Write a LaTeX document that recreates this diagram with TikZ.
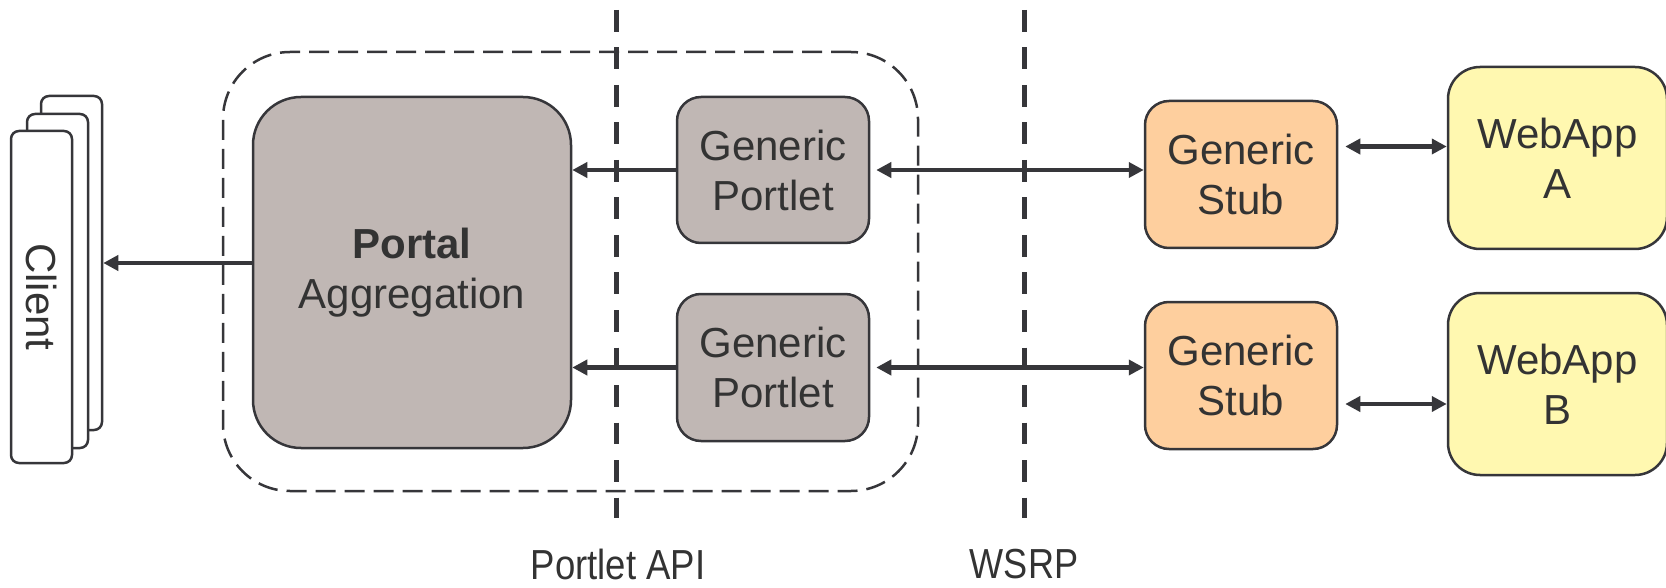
\documentclass[tikz,border=0pt]{standalone}
\usepackage{graphicx}
\usepackage{fontspec}
\setmainfont{Liberation Sans}
\usetikzlibrary{arrows.meta}
\definecolor{strk}{HTML}{36363A}
\definecolor{txt}{HTML}{333333}
\definecolor{portalfill}{HTML}{C0B7B4}
\definecolor{stubfill}{HTML}{FECF9E}
\definecolor{appfill}{HTML}{FFF8B0}
\begin{document}
\begin{tikzpicture}[x=1pt,y=-1pt,
  box/.style={draw=strk, line width=2.5pt, inner sep=0pt, align=center, text=txt,
    font=\fontsize{42}{50}\selectfont},
  portalbox/.style={box, fill=portalfill},
  stubbox/.style={box, fill=stubfill, rounded corners=24pt, minimum width=192pt, minimum height=147pt},
  appbox/.style={box, fill=appfill, rounded corners=32pt, minimum width=219pt, minimum height=182pt},
  clientbox/.style={draw=strk, line width=2.5pt, fill=white, rounded corners=8pt, inner sep=0pt,
    minimum width=61pt, minimum height=333pt},
  arr/.style={draw=strk, line width=4.5pt, -{Triangle[length=15pt,width=15pt]}},
  darr/.style={draw=strk, line width=4.5pt, {Triangle[length=15pt,width=15pt]}-{Triangle[length=15pt,width=15pt]}},
  sepline/.style={draw=strk, line width=5pt, dash pattern=on 21.7pt off 15.8pt},
  lbl/.style={text=txt, font=\fontsize{42}{50}\selectfont, inner sep=0pt}]
\useasboundingbox (0,0) rectangle (1666,588);

% dashed container
\node[draw=strk, line width=2.5pt, dash pattern=on 20pt off 9pt, rounded corners=67pt,
  minimum width=695pt, minimum height=439pt, inner sep=0pt] (cont) at (570.5,271.5) {};

% separator lines
\coordinate (apitop) at (616.5,10);
\coordinate (apibot) at (616.5,518);
\coordinate (wsrptop) at (1024,10);
\coordinate (wsrpbot) at (1024,518);
\draw[sepline] (apitop) -- (apibot);
\draw[sepline] (wsrptop) -- (wsrpbot);

% client stack
\node[clientbox, minimum height=334pt] (cback) at (71.5,263) {};
\node[clientbox, minimum height=334pt] (cmid) at (57.5,281) {};
\node[clientbox, minimum height=332pt] (cfront) at (41.5,297) {};
\node[lbl, rotate=-90] (clientlbl) at (cfront) {Client};

% portal
\node[portalbox, rounded corners=48pt, minimum width=318pt, minimum height=351pt] (portal) at (412,272.5)
  {{\bfseries Portal}\\Aggregation};

% portlets
\node[portalbox, rounded corners=24pt, minimum width=192pt, minimum height=146pt] (p1) at (773,170) {Generic\\Portlet};
\node[portalbox, rounded corners=24pt, minimum width=192pt, minimum height=147pt] (p2) at (773,367.5) {Generic\\Portlet};

% stubs
\node[stubbox] (s1) at (1241,174.5) {Generic\\Stub};
\node[stubbox] (s2) at (1241,375.5) {Generic\\Stub};

% web apps
\node[appbox] (appA) at (1557.5,158) {WebApp\\A};
\node[appbox] (appB) at (1557.5,384) {WebApp\\B};

% connectors
\coordinate (yc) at (0,263);
\coordinate (ya) at (0,146.5);
\coordinate (yb) at (0,404);
\draw[arr] (portal.west |- yc) -- (cback.east |- yc);
\draw[arr] (p1.west) -- (p1.west -| portal.east);
\draw[arr] (p2.west) -- (p2.west -| portal.east);
\draw[darr, shorten <=6pt] (p1.east) -- (p1.east -| s1.west);
\draw[darr, shorten <=6pt] (p2.east) -- (p2.east -| s2.west);
\draw[darr, shorten <=7pt] (s1.east |- ya) -- (appA.west |- ya);
\draw[darr, shorten <=7pt] (s2.east |- yb) -- (appB.west |- yb);

% bottom labels
\node[lbl] (apilbl) at (618,564) {\scalebox{0.87}[1]{Portlet API}};
\node[lbl] (wsrplbl) at (1024,564) {\scalebox{0.86}[1]{WSRP}};
\end{tikzpicture}
\end{document}
